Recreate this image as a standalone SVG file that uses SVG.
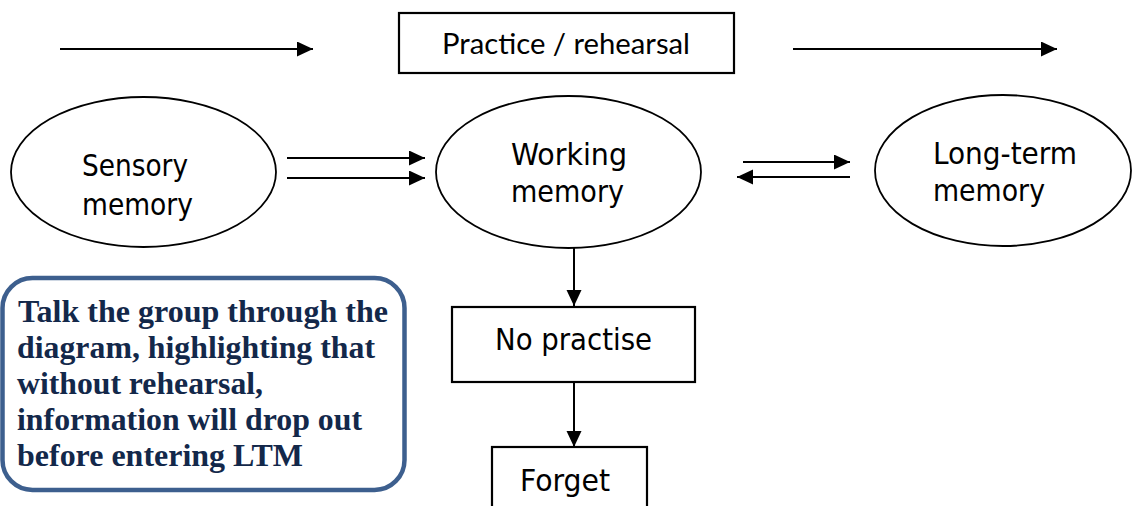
<svg xmlns="http://www.w3.org/2000/svg" width="1132" height="506" viewBox="0 0 1132 506">
  <style>
    .shape { fill: #ffffff; stroke: #000000; stroke-width: 1.8; }
    .box { fill: #ffffff; stroke: #000000; stroke-width: 2.2; }
    .lbl { font-family: "DejaVu Sans Condensed", "DejaVu Sans", Verdana, sans-serif; fill: #000000; }
    .cal { font-family: Lato, "Open Sans", "Liberation Sans", sans-serif; fill: #000000; font-size: 29px; }
    .note { font-family: "Liberation Serif", "Times New Roman", serif; font-weight: bold; font-size: 32px; fill: #13284a; }
    .conn { stroke: #000000; stroke-width: 2; fill: none; marker-end: url(#arrow); }
  </style>
  <defs>
    <marker id="arrow" markerUnits="userSpaceOnUse" markerWidth="16" markerHeight="16" refX="16" refY="7.5" orient="auto">
      <path d="M0,0 L16,7.5 L0,15 Z" fill="#000000"/>
    </marker>
  </defs>
  <rect width="1132" height="506" fill="#ffffff"/>

  <g id="practice">
    <rect class="box" x="399" y="13" width="335" height="60"/>
    <text class="cal" x="442" y="54" textLength="248" lengthAdjust="spacingAndGlyphs">Practice / rehearsal</text>
  </g>

  <g id="sensory">
    <ellipse class="shape" cx="143.5" cy="172" rx="132.5" ry="75"/>
    <text class="lbl" font-size="30.5" x="82" y="176" textLength="106" lengthAdjust="spacingAndGlyphs">Sensory</text>
    <text class="lbl" font-size="30.5" x="82" y="215" textLength="111" lengthAdjust="spacingAndGlyphs">memory</text>
  </g>

  <g id="working">
    <ellipse class="shape" cx="568.5" cy="172" rx="132.5" ry="76"/>
    <text class="lbl" font-size="30.5" x="511" y="165" textLength="116" lengthAdjust="spacingAndGlyphs">Working</text>
    <text class="lbl" font-size="30.5" x="511" y="202" textLength="113" lengthAdjust="spacingAndGlyphs">memory</text>
  </g>

  <g id="longterm">
    <ellipse class="shape" cx="1003" cy="170.5" rx="128" ry="75.5"/>
    <text class="lbl" font-size="30.5" x="933" y="164" textLength="144" lengthAdjust="spacingAndGlyphs">Long-term</text>
    <text class="lbl" font-size="30.5" x="933" y="201" textLength="112" lengthAdjust="spacingAndGlyphs">memory</text>
  </g>

  <g id="nopractise">
    <rect class="box" x="452" y="307" width="243" height="75"/>
    <text class="lbl" font-size="31" x="495" y="350" textLength="157" lengthAdjust="spacingAndGlyphs">No practise</text>
  </g>

  <g id="forget">
    <rect class="box" x="492" y="447" width="155" height="70"/>
    <text class="lbl" font-size="31" x="520" y="491" textLength="90" lengthAdjust="spacingAndGlyphs">Forget</text>
  </g>

  <g id="note">
    <rect x="2.5" y="278" width="402" height="212" rx="30" ry="30" fill="#ffffff" stroke="#3d5f8e" stroke-width="4.5"/>
    <text class="note" x="18" y="322" textLength="370" lengthAdjust="spacingAndGlyphs">Talk the group through the</text>
    <text class="note" x="17" y="358" textLength="358" lengthAdjust="spacingAndGlyphs">diagram, highlighting that</text>
    <text class="note" x="17" y="394" textLength="246" lengthAdjust="spacingAndGlyphs">without rehearsal,</text>
    <text class="note" x="17" y="430" textLength="345" lengthAdjust="spacingAndGlyphs">information will drop out</text>
    <text class="note" x="17" y="466" textLength="286" lengthAdjust="spacingAndGlyphs">before entering LTM</text>
  </g>

  <g id="connectors">
    <line class="conn" x1="60" y1="49" x2="313" y2="49"/>
    <line class="conn" x1="793" y1="49" x2="1057" y2="49"/>
    <line class="conn" x1="287" y1="158" x2="425" y2="158"/>
    <line class="conn" x1="287" y1="178" x2="425" y2="178"/>
    <line class="conn" x1="743" y1="162" x2="850" y2="162"/>
    <line class="conn" x1="850" y1="177" x2="737" y2="177"/>
    <line class="conn" x1="574" y1="248" x2="574" y2="306"/>
    <line class="conn" x1="574" y1="382" x2="574" y2="447"/>
  </g>
</svg>
